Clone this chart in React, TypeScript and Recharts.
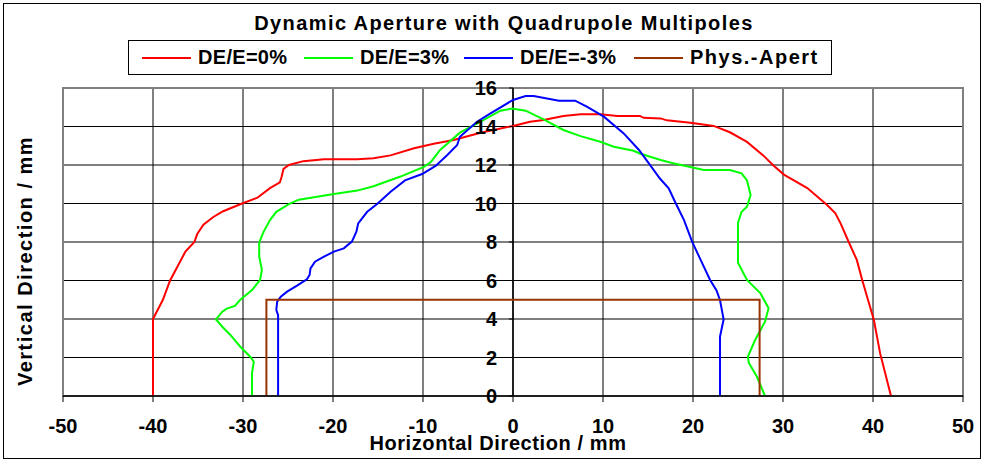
import React from 'react';
import { LineChart, Line, XAxis, YAxis, CartesianGrid, ReferenceLine, ReferenceDot, ReferenceArea } from 'recharts';

type Pt = { x: number; y: number };
const P = (a: number[][]): Pt[] => a.map(([x, y]) => ({ x, y }));

const title = 'Dynamic Aperture with Quadrupole Multipoles';
const xTitle = 'Horizontal Direction / mm';
const yTitle = 'Vertical Direction / mm';
const xTicks = [-50, -40, -30, -20, -10, 0, 10, 20, 30, 40, 50];
const yTicks = [0, 2, 4, 6, 8, 10, 12, 14, 16];

const de0 = P([
  [-40, 0], [-40, 4], [-38.9, 5.0], [-38.1, 6.0], [-36.4, 7.5], [-35.4, 8.0], [-35.1, 8.4], [-34.4, 8.9],
  [-33.3, 9.3], [-32.2, 9.6], [-30.1, 10.0], [-28.4, 10.3], [-27.0, 10.8], [-25.9, 11.1], [-25.7, 11.4],
  [-25.5, 11.8], [-24.9, 12.0], [-23.3, 12.2], [-21.0, 12.3], [-17.3, 12.3], [-15.5, 12.35], [-13.6, 12.5],
  [-11.0, 12.87], [-8.8, 13.1], [-6.6, 13.3], [-3.6, 13.68], [0, 14.03], [1.9, 14.25], [3.4, 14.34],
  [5.6, 14.55], [7.5, 14.63], [9.7, 14.63], [11.6, 14.55], [14.1, 14.55], [14.5, 14.45], [16.4, 14.42],
  [17.1, 14.32], [19.7, 14.2], [22.3, 14.03], [24.1, 13.7], [26.0, 13.2], [27.8, 12.5], [29.0, 11.95],
  [30.1, 11.5], [32.7, 10.8], [34.9, 9.92], [35.8, 9.5], [36.4, 8.97], [37.3, 8.0], [38.2, 7.07],
  [38.8, 6.03], [40.1, 3.95], [40.8, 2.2], [42.0, 0],
]);

const de3 = P([
  [-29.0, 0], [-29.0, 1.2], [-28.8, 1.78], [-29.2, 2.04], [-30.3, 2.56], [-31.4, 3.17], [-32.3, 3.6],
  [-33.0, 3.98], [-32.3, 4.38], [-31.8, 4.54], [-30.9, 4.68], [-30.3, 5.0], [-29.0, 5.5], [-28.1, 6.03],
  [-27.9, 6.55], [-28.2, 7.24], [-28.2, 7.98], [-27.7, 8.54], [-27.0, 9.14], [-26.3, 9.57], [-24.9, 9.97],
  [-23.8, 10.2], [-19.9, 10.49], [-17.3, 10.67], [-15.5, 10.9], [-12.5, 11.4], [-9.9, 11.9], [-9.1, 12.17],
  [-8.1, 12.78], [-5.9, 13.68], [-3.6, 14.25], [-1.4, 14.82], [-0.1, 14.93], [1.4, 14.82], [3.4, 14.37],
  [5.6, 13.82], [7.5, 13.5], [9.7, 13.21], [11.2, 12.95], [13.4, 12.74], [14.1, 12.6], [16.4, 12.26],
  [17.8, 12.09], [21.2, 11.74], [24.1, 11.74], [25.4, 11.57], [26.0, 11.2], [26.4, 10.44], [26.0, 9.83],
  [25.4, 9.57], [25.0, 9.0], [25.0, 6.92], [26.0, 6.03], [27.5, 5.33], [28.4, 4.56], [28.0, 3.86],
  [26.9, 2.91], [26.1, 2.04], [26.2, 1.73], [27.1, 1.0], [28.0, 0],
]);

const deM3 = P([
  [-26.1, 0], [-26.1, 4.2], [-26.3, 4.47], [-26.2, 4.9], [-25.8, 5.16], [-25.1, 5.42], [-24.0, 5.73],
  [-22.9, 6.06], [-22.6, 6.29], [-22.5, 6.63], [-22.0, 6.98], [-21.0, 7.24], [-19.9, 7.5], [-18.8, 7.67],
  [-17.9, 8.02], [-17.4, 8.54], [-17.2, 8.97], [-16.2, 9.57], [-15.1, 9.97], [-13.6, 10.61], [-12.0, 11.2],
  [-10.1, 11.53], [-8.6, 11.95], [-7.3, 12.52], [-6.2, 13.04], [-5.9, 13.47], [-4.0, 14.25], [-2.5, 14.68],
  [0, 15.38], [1.4, 15.58], [2.3, 15.58], [5.1, 15.34], [6.9, 15.34], [8.2, 15.03], [10.1, 14.51],
  [12.3, 13.64], [14.0, 12.78], [15.3, 11.95], [16.3, 11.31], [17.3, 10.79], [18.0, 10.09], [19.0, 9.14],
  [19.9, 8.02], [20.6, 7.32], [21.9, 6.03], [22.6, 5.5], [23.0, 4.99], [23.4, 3.98], [23.0, 3.08], [23.0, 0],
]);

const physApert = P([[-27.4, 0], [-27.4, 5], [27.4, 5], [27.4, 0]]);

const series = [
  { name: 'DE/E=0%', data: de0, color: '#ff0000' },
  { name: 'DE/E=3%', data: de3, color: '#00ff00' },
  { name: 'DE/E=-3%', data: deM3, color: '#0000ff' },
  { name: 'Phys.-Apert', data: physApert, color: '#993300' },
];

const FONT = '"Liberation Sans", Arial, sans-serif';

const YTickShape = (v: number) => (props: any) => {
  const { cx, cy } = props;
  return (
    <g>
      <line x1={cx - 4} y1={cy} x2={cx} y2={cy} stroke="#000" strokeWidth={1} />
      <text x={cx - 16} y={cy} dy="0.36em" textAnchor="end" fontFamily={FONT} fontWeight="bold" fontSize={20} fill="#000">
        {v}
      </text>
    </g>
  );
};

export default function App() {
  return (
    <div style={{ position: 'absolute', left: 0, top: 0, width: 984, height: 462, background: '#fff' }}>
      <LineChart width={984} height={462} margin={{ top: 88, right: 21, left: 63, bottom: 26 }}>
        <CartesianGrid stroke="#000" strokeWidth={1} />
        <XAxis
          dataKey="x"
          type="number"
          domain={[-50, 50]}
          ticks={xTicks}
          height={40}
          tickSize={6}
          tickMargin={17}
          axisLine={{ stroke: '#000', strokeWidth: 1.5 }}
          tickLine={{ stroke: '#000' }}
          tick={{ fontFamily: FONT, fontWeight: 'bold', fontSize: 20, fill: '#000' }}
          interval={0}
        />
        <YAxis type="number" domain={[0, 16]} ticks={yTicks} hide />
        <ReferenceArea x1={-50} x2={50} y1={0} y2={16} fill="none" stroke="#808080" strokeWidth={2} />
        <ReferenceLine x={0} stroke="#000" strokeWidth={1.5} />
        {series.map((s) => (
          <Line
            key={s.name}
            data={s.data}
            dataKey="y"
            name={s.name}
            stroke={s.color}
            strokeWidth={2}
            dot={false}
            activeDot={false}
            type="linear"
            isAnimationActive={false}
          />
        ))}
        {yTicks.map((v) => (
          <ReferenceDot key={v} x={0} y={v} r={0} shape={YTickShape(v)} />
        ))}
      </LineChart>
      <svg width={984} height={462} style={{ position: 'absolute', left: 0, top: 0, pointerEvents: 'none' }}>
        <rect x={3.5} y={3.5} width={977} height={455} fill="none" stroke="#000" strokeWidth={1} />
        <text x={504} y={30} textAnchor="middle" fontFamily={FONT} fontWeight="bold" fontSize={20} letterSpacing={1.4} fill="#000">
          {title}
        </text>
        <text x={498} y={450} textAnchor="middle" fontFamily={FONT} fontWeight="bold" fontSize={20} letterSpacing={0.6} fill="#000">
          {xTitle}
        </text>
        <text
          transform="translate(32,261) rotate(-90)"
          textAnchor="middle"
          fontFamily={FONT}
          fontWeight="bold"
          fontSize={20}
          letterSpacing={1.5}
          fill="#000"
        >
          {yTitle}
        </text>
      </svg>
      <div
        style={{
          position: 'absolute',
          left: 128,
          top: 40,
          width: 702,
          height: 33,
          border: '1px solid #000',
          background: '#fff',
          fontFamily: FONT,
          fontWeight: 'bold',
          fontSize: 20,
          letterSpacing: 0.3,
          color: '#000',
        }}
      >
        {series.map((s, i) => {
          const lineLeft = [13, 175, 335, 505][i];
          return (
            <div key={s.name} style={{ position: 'absolute', left: lineLeft, top: 0, height: 33, display: 'flex', alignItems: 'center', whiteSpace: 'nowrap' }}>
              <span style={{ display: 'inline-block', width: 49, height: 2, background: s.color, marginRight: 7 }} />
              <span style={i === 3 ? { letterSpacing: 1.5 } : undefined}>{s.name}</span>
            </div>
          );
        })}
      </div>
    </div>
  );
}
